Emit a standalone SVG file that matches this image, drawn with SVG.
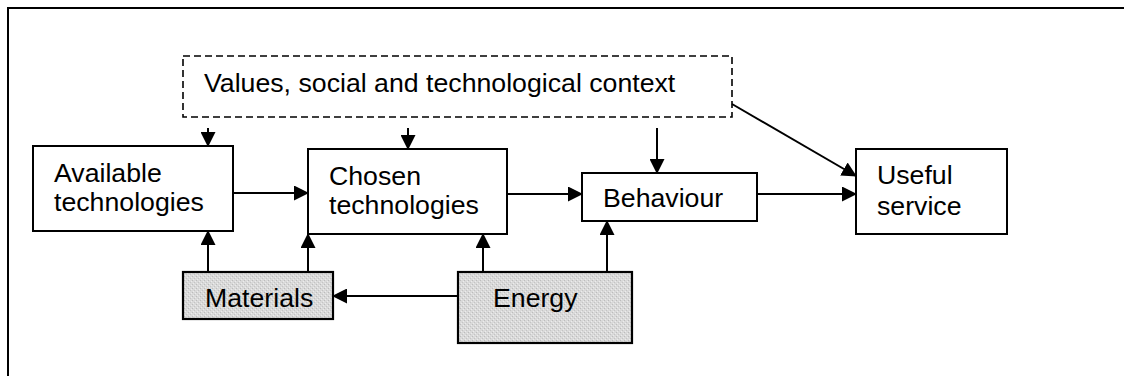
<svg xmlns="http://www.w3.org/2000/svg" width="1124" height="376" viewBox="0 0 1124 376">
<style>
.box{fill:#fff;stroke:#000;stroke-width:2}
.grey{stroke:#000;stroke-width:2.2;fill:url(#tex)}
.dash{fill:#fff;stroke:#000;stroke-width:1.6;stroke-dasharray:7,4}
.t{font-family:"Liberation Sans",Arial,sans-serif;font-size:26.7px;fill:#000}
.c{stroke:#000;stroke-width:2;fill:none;marker-end:url(#ah)}
</style>
<defs>
<marker id="ah" markerUnits="userSpaceOnUse" markerWidth="15" markerHeight="15" refX="14" refY="7.5" orient="auto" viewBox="0 0 15 15">
<path d="M0,0 L15,7.5 L0,15 z" fill="#000"/>
</marker>
<pattern id="tex" width="4" height="4" patternUnits="userSpaceOnUse">
<rect width="4" height="4" fill="#d9d9d9"/>
<rect x="0" y="0" width="1" height="1" fill="#bcbcbc"/>
<rect x="2" y="2" width="1" height="1" fill="#c4c4c4"/>
<rect x="3" y="1" width="1" height="1" fill="#ececec"/>
<rect x="1" y="3" width="1" height="1" fill="#ececec"/>
</pattern>
</defs>
<rect width="1124" height="376" fill="#fff"/>
<path d="M8,376 V8 H1124" fill="none" stroke="#000" stroke-width="2"/>
<g id="context">
<rect class="dash" x="183" y="56" width="549" height="61"/>
<text class="t" x="204" y="92">Values, social and technological context</text>
</g>
<g id="available">
<rect class="box" x="33" y="146" width="200" height="85"/>
<text class="t" x="54" y="182">Available</text>
<text class="t" x="54" y="211">technologies</text>
</g>
<g id="chosen">
<rect class="box" x="308" y="149" width="199" height="85"/>
<text class="t" x="329" y="185">Chosen</text>
<text class="t" x="329" y="214">technologies</text>
</g>
<g id="behaviour">
<rect class="box" x="582" y="173" width="175" height="48"/>
<text class="t" x="603" y="207">Behaviour</text>
</g>
<g id="useful">
<rect class="box" x="856" y="149" width="151" height="85"/>
<text class="t" x="877" y="184">Useful</text>
<text class="t" x="877" y="215">service</text>
</g>
<g id="materials">
<rect class="grey" x="183" y="272" width="150" height="47"/>
<text class="t" x="205" y="307">Materials</text>
</g>
<g id="energy">
<rect class="grey" x="458" y="272" width="174" height="71"/>
<text class="t" x="493" y="307">Energy</text>
</g>
<g id="connectors">
<line class="c" x1="208" y1="128" x2="208" y2="146"/>
<line class="c" x1="408" y1="128" x2="408" y2="149"/>
<line class="c" x1="657" y1="128" x2="657" y2="173"/>
<line class="c" x1="732" y1="104" x2="856" y2="176"/>
<line class="c" x1="233" y1="193" x2="308" y2="193"/>
<line class="c" x1="507" y1="194" x2="582" y2="194"/>
<line class="c" x1="757" y1="194" x2="856" y2="194"/>
<line class="c" x1="208" y1="272" x2="208" y2="231"/>
<line class="c" x1="308" y1="272" x2="308" y2="234"/>
<line class="c" x1="483" y1="272" x2="483" y2="234"/>
<line class="c" x1="607" y1="272" x2="607" y2="221"/>
<line class="c" x1="458" y1="296" x2="333" y2="296"/>
</g>
</svg>
